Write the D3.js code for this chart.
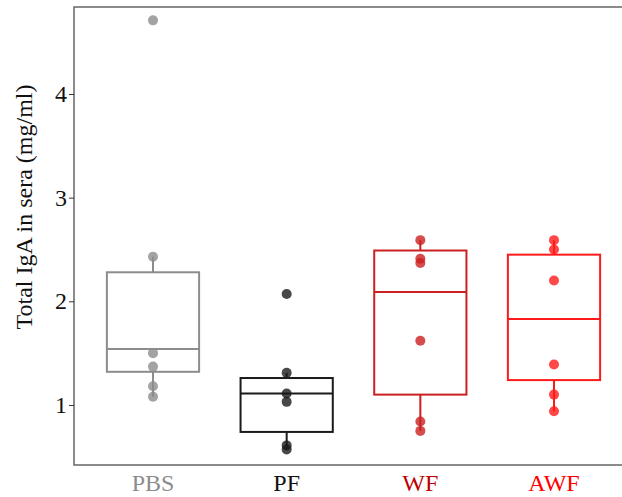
<!DOCTYPE html>
<html>
<head>
<meta charset="utf-8">
<script src="https://cdn.jsdelivr.net/npm/d3@7"></script>
<style>
  body { margin: 0; background: #fff; }
  svg text { font-family: "Liberation Serif", "DejaVu Serif", serif; }
</style>
</head>
<body>
<svg id="chart" width="622" height="497"></svg>
<script>
// groups and colours
const groups = ["PBS", "PF", "WF", "AWF"];
const lineColors = ["#8c8c8c", "#1a1a1a", "#cc1f1f", "#ff1a1a"];
const labelColors = ["#8c8c8c", "#111111", "#c00000", "#ff0000"];

// individual measurements (mg/ml)
const pbsVals = [4.71, 2.43, 1.50, 1.37, 1.18, 1.08];
const pfVals  = [2.07, 1.31, 1.11, 1.03, 0.61, 0.57];
const wfVals  = [2.59, 2.41, 2.37, 1.62, 0.84, 0.75];
const awfVals = [2.59, 2.50, 2.20, 1.39, 1.10, 0.94];

// box statistics per group
const q1     = [1.32, 0.74, 1.10, 1.24];
const median = [1.54, 1.11, 2.09, 1.83];
const q3     = [2.28, 1.26, 2.49, 2.45];
const whLow  = [1.08, 0.57, 0.75, 0.94];
const whHigh = [2.43, 1.31, 2.59, 2.59];

const yTicks = [1, 2, 3, 4];

const svg = d3.select("#chart");
const panel = { left: 74, top: 7, bottom: 465, right: 622 };

const y = d3.scaleLinear().domain([0.421, 4.839]).range([panel.bottom, panel.top]);
const x = d3.scalePoint().domain(groups).range([153, 554]);
const boxW = x.step() * 0.69;

// panel border
svg.append("path")
    .attr("d", `M${panel.right},${panel.top}H${panel.left}V${panel.bottom}H${panel.right}`)
    .attr("fill", "none")
    .attr("stroke", "#666")
    .attr("stroke-width", 1.5);

// y axis
const yAxis = svg.append("g")
    .attr("transform", `translate(${panel.left},0)`)
    .call(d3.axisLeft(y).tickValues(yTicks).tickFormat(d3.format("d")).tickSize(5).tickPadding(2));
yAxis.select(".domain").remove();
yAxis.selectAll(".tick line").attr("stroke", "#333");
yAxis.selectAll(".tick text")
    .attr("font-size", 24)
    .attr("fill", "#111")
    .style("font-family", "'Liberation Serif', serif");

svg.append("text")
    .attr("transform", `translate(32,207) rotate(-90)`)
    .attr("text-anchor", "middle")
    .attr("font-size", 24)
    .attr("fill", "#111")
    .text("Total IgA in sera (mg/ml)");

// boxes
const stats = groups.map((g, i) => ({ g, i, q1: q1[i], med: median[i], q3: q3[i], lo: whLow[i], hi: whHigh[i] }));

const box = svg.append("g").selectAll("g")
    .data(stats)
    .join("g")
    .attr("stroke", d => lineColors[d.i])
    .attr("stroke-width", 2)
    .attr("fill", "none");

box.append("line")
    .attr("x1", d => x(d.g)).attr("x2", d => x(d.g))
    .attr("y1", d => y(d.hi)).attr("y2", d => y(d.q3));
box.append("line")
    .attr("x1", d => x(d.g)).attr("x2", d => x(d.g))
    .attr("y1", d => y(d.q1)).attr("y2", d => y(d.lo));
box.append("rect")
    .attr("x", d => x(d.g) - boxW / 2)
    .attr("width", boxW)
    .attr("y", d => y(d.q3))
    .attr("height", d => y(d.q1) - y(d.q3));
box.append("line")
    .attr("x1", d => x(d.g) - boxW / 2).attr("x2", d => x(d.g) + boxW / 2)
    .attr("y1", d => y(d.med)).attr("y2", d => y(d.med));

// points
const allVals = [pbsVals, pfVals, wfVals, awfVals];
const pts = allVals.flatMap((vals, i) => vals.map(v => ({ g: groups[i], i, v })));
svg.append("g").selectAll("circle")
    .data(pts)
    .join("circle")
    .attr("cx", d => x(d.g))
    .attr("cy", d => y(d.v))
    .attr("r", 5)
    .attr("fill", d => lineColors[d.i])
    .attr("fill-opacity", 0.8);

// x labels
svg.append("g").selectAll("text")
    .data(groups)
    .join("text")
    .attr("x", d => x(d))
    .attr("y", 491)
    .attr("text-anchor", "middle")
    .attr("font-size", 24)
    .attr("fill", (d, i) => labelColors[i])
    .text(d => d);
</script>
</body>
</html>
